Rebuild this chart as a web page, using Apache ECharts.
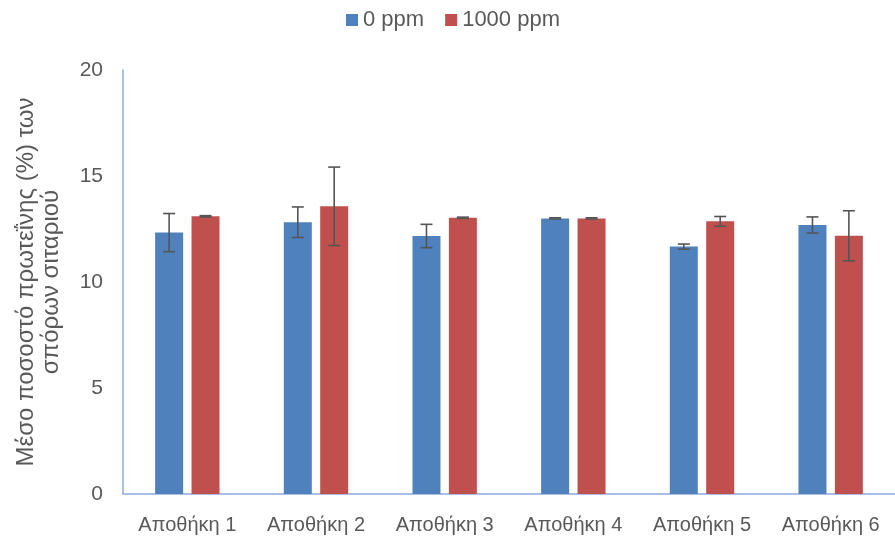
<!DOCTYPE html>
<html>
<head>
<meta charset="utf-8">
<script src="https://cdn.jsdelivr.net/npm/echarts@6/dist/echarts.min.js"></script>
<style>html,body{margin:0;padding:0;background:#fff}#c{width:895px;height:543px}</style>
</head>
<body>
<div id="c"></div>
<script>
const categories = ['Αποθήκη 1', 'Αποθήκη 2', 'Αποθήκη 3', 'Αποθήκη 4', 'Αποθήκη 5', 'Αποθήκη 6'];
const seriesNames = ['0 ppm', '1000 ppm'];
const ppm0 = [12.33, 12.82, 12.17, 13.00, 11.67, 12.69];
const ppm0Err = [0.90, 0.72, 0.55, 0.03, 0.12, 0.38];
const ppm1000 = [13.10, 13.57, 13.03, 13.00, 12.86, 12.18];
const ppm1000Err = [0.03, 1.85, 0.03, 0.03, 0.23, 1.18];
const yTicks = [0, 5, 10, 15, 20];

const FONT = '"Liberation Sans", "DejaVu Sans", sans-serif';
const BAR_W = 28;
const BAR_GAP = 0.3;

function errSeries(vals, errs, idx) {
  const data = vals.map((v, i) => [i, v - errs[i], v + errs[i]]);
  return {
    type: 'custom',
    z: 10,
    silent: true,
    data: data,
    encode: { x: 0, y: [1, 2] },
    renderItem: function (params, api) {
      const i = api.value(0);
      const lo = api.coord([i, api.value(1)]);
      const hi = api.coord([i, api.value(2)]);
      const total = BAR_W * 2 + BAR_W * BAR_GAP;
      const off = -total / 2 + BAR_W / 2 + idx * (BAR_W + BAR_W * BAR_GAP);
      const x = lo[0] + off;
      const cap = 6;
      const style = { stroke: '#555', lineWidth: 1.6 };
      return {
        type: 'group',
        children: [
          { type: 'line', shape: { x1: x, y1: lo[1], x2: x, y2: hi[1] }, style: style },
          { type: 'line', shape: { x1: x - cap, y1: lo[1], x2: x + cap, y2: lo[1] }, style: style },
          { type: 'line', shape: { x1: x - cap, y1: hi[1], x2: x + cap, y2: hi[1] }, style: style }
        ]
      };
    }
  };
}

const chart = echarts.init(document.getElementById('c'), null, { renderer: 'canvas' });
chart.setOption({
  animation: false,
  textStyle: { fontFamily: FONT },
  legend: {
    data: seriesNames,
    top: 4,
    left: 341,
    itemWidth: 12,
    itemHeight: 12,
    itemGap: 21,
    icon: 'rect',
    textStyle: { fontSize: 22, color: '#595959', fontFamily: FONT }
  },
  grid: { left: 123, right: 0, top: 70, bottom: 49, containLabel: false },
  xAxis: {
    type: 'category',
    data: categories,
    axisLine: { show: true, lineStyle: { color: '#8EAADB', width: 1.5 } },
    axisTick: { show: false },
    axisLabel: { fontSize: 20, color: '#595959', margin: 21, fontFamily: FONT }
  },
  yAxis: {
    type: 'value',
    min: yTicks[0],
    max: yTicks[yTicks.length - 1],
    interval: 5,
    splitLine: { show: false },
    axisLine: { show: true, lineStyle: { color: '#8EAADB', width: 1.5 } },
    axisTick: { show: false },
    axisLabel: { fontSize: 21, color: '#595959', margin: 20, fontFamily: FONT },
    name: 'Μέσο ποσοστό πρωτεΐνης (%) των\nσπόρων σιταριού',
    nameLocation: 'middle',
    nameRotate: 90,
    nameGap: 59,
    nameTextStyle: { fontSize: 24, color: '#595959', lineHeight: 25, fontFamily: FONT }
  },
  series: [
    { name: seriesNames[0], type: 'bar', data: ppm0, barWidth: BAR_W, barGap: (BAR_GAP * 100) + '%', itemStyle: { color: '#4F81BD' } },
    { name: seriesNames[1], type: 'bar', data: ppm1000, barWidth: BAR_W, barGap: (BAR_GAP * 100) + '%', itemStyle: { color: '#C0504D' } },
    errSeries(ppm0, ppm0Err, 0),
    errSeries(ppm1000, ppm1000Err, 1)
  ]
});
</script>
</body>
</html>
